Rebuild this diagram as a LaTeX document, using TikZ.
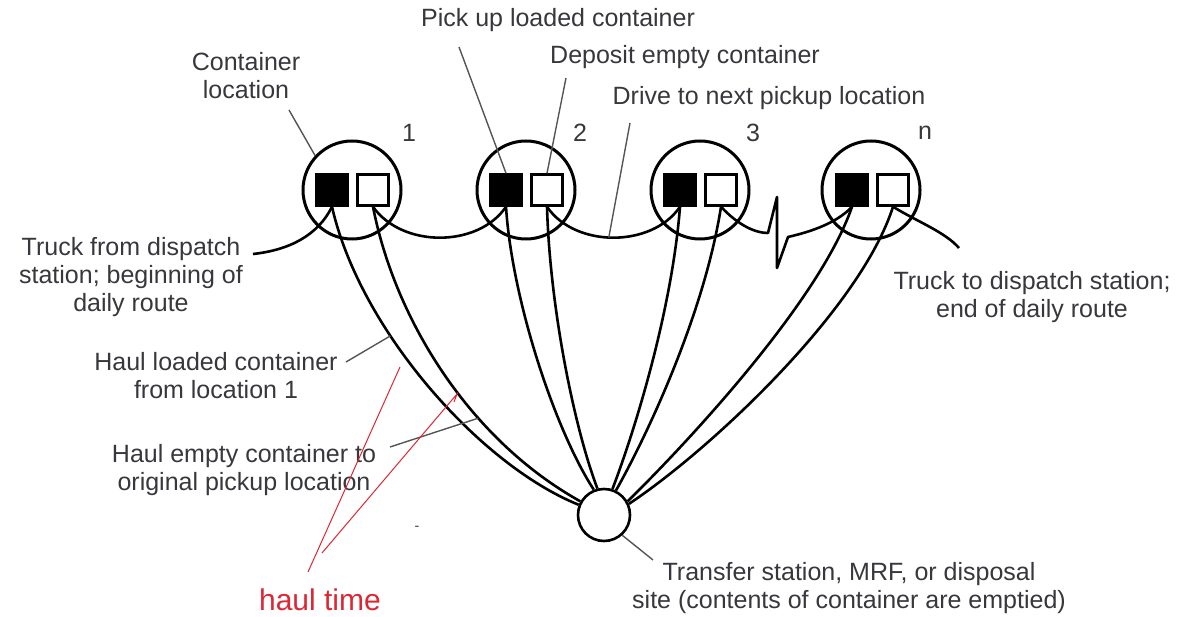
\documentclass[tikz,border=0pt]{standalone}
\usepackage{fontspec}
\setmainfont{Liberation Sans}
\definecolor{txtc}{RGB}{55,55,60}
\definecolor{leadc}{RGB}{85,85,85}
\definecolor{haulred}{RGB}{220,40,50}
\begin{document}
\begin{tikzpicture}[x=1pt,y=-1pt,
  txt/.style={font=\fontsize{25}{28}\selectfont, text=txtc, align=center, inner sep=0pt},
  loc/.style={circle, draw=black, line width=3pt, minimum size=98pt, inner sep=0pt},
  fullbox/.style={rectangle, draw=black, fill=black, line width=2.5pt, minimum size=31pt, inner sep=0pt},
  emptybox/.style={rectangle, draw=black, fill=white, line width=2.5pt, minimum size=31pt, inner sep=0pt},
  disp/.style={circle, draw=black, fill=white, line width=2.6pt, minimum size=52pt, inner sep=0pt},
  route/.style={line width=2.6pt, black, line join=round},
  haul/.style={line width=2.6pt, black},
  leader/.style={line width=1.4pt, leadc},
  redl/.style={line width=1pt, haulred}]
\useasboundingbox (0,0) rectangle (1191,617);

% container locations
\node[loc] (C1) at (352,190) {};
\node[loc] (C2) at (526,190) {};
\node[loc] (C3) at (700,190) {};
\node[loc] (C4) at (871,190) {};
\node[fullbox] (B1) at (332,190) {};
\node[emptybox] (W1) at (373,190) {};
\node[fullbox] (B2) at (506,190) {};
\node[emptybox] (W2) at (547,190) {};
\node[fullbox] (B3) at (680,190) {};
\node[emptybox] (W3) at (721,190) {};
\node[fullbox] (B4) at (852,190) {};
\node[emptybox] (W4) at (893,190) {};

\node[txt] (n1) at (409,133) {1};
\node[txt] (n2) at (580,133) {2};
\node[txt] (n3) at (753,133) {3};
\node[txt] (n4) at (925,133) {n};

% disposal site
\node[disp] (D) at (604,515) {};

% haul lines
\draw[haul] (B1.south) .. controls (360,330) and (480,465) .. coordinate[pos=0.35] (h1) (D.158);
\draw[haul] (W1.south) .. controls (395,320) and (470,440) .. coordinate[pos=0.65] (h2) (D.150);
\draw[haul] (B2.south) .. controls (512,300) and (555,430) .. (D.112);
\draw[haul] (W2.south) .. controls (550,310) and (575,430) .. (D.104);
\draw[haul] (B3.south) .. controls (672,310) and (635,430) .. (D.72);
\draw[haul] (W3.south) .. controls (705,310) and (650,430) .. (D.64);
\draw[haul] (B4.south) .. controls (820,300) and (690,440) .. (D.30);
\draw[haul] (W4.south) .. controls (860,310) and (710,450) .. (D.24);

% truck route
\coordinate (S) at (253,254);
\coordinate (E) at (959,248);
\coordinate (z1) at (768,233);
\coordinate (z2) at (777,197);
\coordinate (z3) at (777,268);
\coordinate (z4) at (788,237);
\draw[route] (S) .. controls (290,250) and (318,235) .. (B1.south);
\draw[route] (W1.south) .. controls (402,248) and (478,248) .. (B2.south);
\draw[route] (W2.south) .. controls (575,248) and (652,248) .. coordinate[pos=0.47] (r23) (B3.south);
\draw[route] (W3.south) .. controls (738,225) and (755,233) .. (z1) -- (z2) -- (z3) -- (z4)
  .. controls (805,233) and (835,225) .. (B4.south);
\draw[route] (W4.south) .. controls (918,222) and (945,232) .. (E);

% labels
\node[txt] (lcl) at (246,76) {Container\\location};
\node[txt] (lpu) at (558,20) {Pick up loaded container};
\node[txt] (lde) at (685,57) {Deposit empty container};
\node[txt] (ldr) at (769,98) {Drive to next pickup location};
\node[txt] (ltf) at (131,277) {Truck from dispatch\\station; beginning of\\daily route};
\node[txt] (ltt) at (1032,297) {Truck to dispatch station;\\end of daily route};
\node[txt] (lhl) at (216,376) {Haul loaded container\\from location 1};
\node[txt] (lhe) at (244,470) {Haul empty container to\\original pickup location};
\node[txt] (lts) at (849,588) {Transfer station, MRF, or disposal\\site (contents of container are emptied)};

% leader lines
\coordinate (a1) at (289,110);
\coordinate (a2) at (459,47);
\coordinate (a3) at (566,78);
\coordinate (a4) at (630,123);
\coordinate (a5) at (346,362);
\coordinate (a6) at (390,447);
\coordinate (a7) at (653,560);
\draw[leader] (a1) -- (C1.137);
\draw[leader] (a2) -- (B2.north);
\draw[leader] (a3) -- (W2.north);
\draw[leader] (a4) -- (r23);
\draw[leader] (a5) -- (h1);
\draw[leader] (a6) -- (h2);
\draw[leader] (D.-48) -- (a7);

% haul time annotation
\node[font=\fontsize{30}{34}\selectfont, text=haulred, inner sep=0pt] (ht) at (320,600) {haul time};
\coordinate (ha) at (308,572);
\coordinate (hb) at (322,553);
\coordinate (hc) at (400,367);
\coordinate (hd) at (457,394);
\coordinate (he) at (454,402);
\draw[redl] (ha) -- (hc);
\draw[redl] (hb) -- (hd) -- (he);

\node[font=\fontsize{14}{16}\selectfont, text=txtc, inner sep=0pt] (dash) at (417,528) {-};
\end{tikzpicture}
\end{document}
